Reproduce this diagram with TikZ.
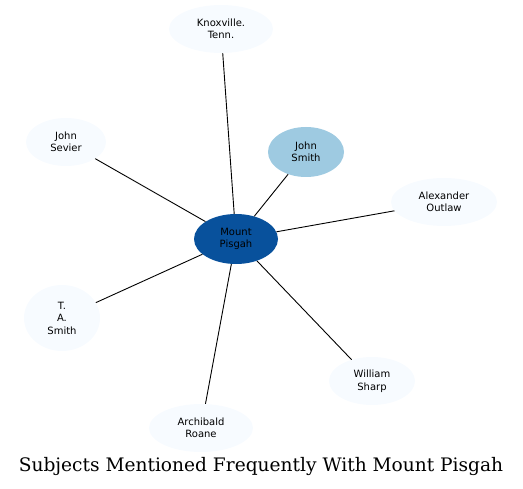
\documentclass[tikz,border=0pt]{standalone}
\usepackage{fontspec}
\newfontfamily\labfont{DejaVu Sans}
\newfontfamily\headfont{DejaVu Serif}
\usetikzlibrary{shapes.geometric}
\definecolor{hub}{RGB}{8,81,156}
\definecolor{near}{RGB}{158,202,225}
\definecolor{far}{RGB}{247,251,255}
\tikzset{
  subj/.style={ellipse,draw=none,fill=far,inner sep=0pt,align=center,
    font=\labfont\fontsize{10}{12.5}\selectfont},
  link/.style={black,line width=0.9pt}
}

\begin{document}
\begin{tikzpicture}[x=1pt,y=-1pt]
\useasboundingbox (0,0) rectangle (523,489);
% ---------------- subjects ----------------
\node[subj,fill=hub,minimum width=84,minimum height=50] (pisgah) at (236,239) {Mount\\Pisgah};
\node[subj,fill=near,minimum width=76,minimum height=50] (jsmith) at (306,152) {John\\Smith};
\node[subj,minimum width=104,minimum height=48] (knox) at (221,29) {Knoxville.\\Tenn.};
\node[subj,minimum width=80,minimum height=48] (sevier) at (66,142) {John\\Sevier};
\node[subj,minimum width=106,minimum height=48] (outlaw) at (444,202) {Alexander\\Outlaw};
\node[subj,minimum width=76,minimum height=66] (tasmith) at (62,318) {T.\\A.\\Smith};
\node[subj,minimum width=86,minimum height=48] (sharp) at (372,381) {William\\Sharp};
\node[subj,minimum width=104,minimum height=48] (roane) at (201,428) {Archibald\\Roane};
% ---------------- links ----------------
\foreach \s in {jsmith,knox,sevier,outlaw,tasmith,sharp,roane}
  \draw[link] (pisgah) -- (\s);
\node[font=\headfont\fontsize{18.6}{21}\selectfont] (title) at (261,467) {Subjects Mentioned Frequently With Mount Pisgah};
\end{tikzpicture}
\end{document}
